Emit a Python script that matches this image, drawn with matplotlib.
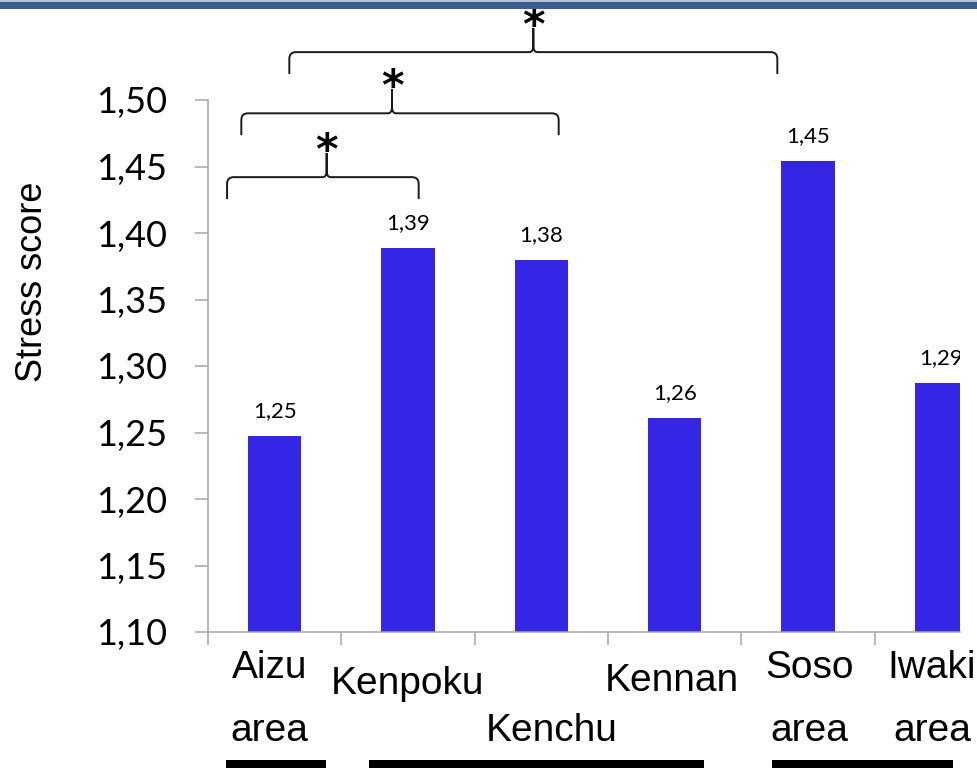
import matplotlib
matplotlib.use('Agg')
import matplotlib.pyplot as plt
from matplotlib.patches import Rectangle, PathPatch
from matplotlib.path import Path
from matplotlib.transforms import blended_transform_factory

# Mean stress score per area
categories = ['Aizu\narea', 'Kenpoku', 'Kenchu', 'Kennan', 'Soso\narea', 'Iwaki\narea']
stress_scores = [1.247, 1.389, 1.380, 1.261, 1.454, 1.287]
y_ticks = [1.10, 1.15, 1.20, 1.25, 1.30, 1.35, 1.40, 1.45, 1.50]
significance_marks = ['*', '*', '*']

W, H, DPI = 978, 768, 100
PT = 72 / DPI  # points per pixel

BAR_COLOR = '#3526e6'
AXIS_GRAY = '#a6a6a6'


def comma(v):
    return f'{v:.2f}'.replace('.', ',')


fig = plt.figure(figsize=(W / DPI, H / DPI), dpi=DPI)
ax = fig.add_axes([208 / W, 136 / H, 752 / W, 532 / H])

x = list(range(len(categories)))
ax.bar(x, stress_scores, width=0.4, color=BAR_COLOR, zorder=2)
ax.set_xlim(-0.5, 5.14)
ax.set_ylim(1.10, 1.50)

for s in ('top', 'right'):
    ax.spines[s].set_visible(False)
for s in ('left', 'bottom'):
    ax.spines[s].set_color(AXIS_GRAY)
    ax.spines[s].set_linewidth(1.1)

ax.set_yticks(y_ticks)
ax.set_yticklabels([comma(t) for t in y_ticks], fontfamily='Lato', fontsize=26)
ax.tick_params(axis='y', direction='out', length=13 * PT, width=1.1,
               color=AXIS_GRAY, pad=20)
ax.set_xticks([i - 0.5 for i in x])
ax.set_xticklabels([])
ax.tick_params(axis='x', direction='out', length=13 * PT, width=1.1,
               color=AXIS_GRAY)

# Category labels under the axis, staggered
label_dx = [-0.04, 0.0, 0.08, -0.02, 0.01, -0.07]
label_drop_px = [18, 34, 81, 31, 18, 18]
for i, (lab, dx, drop) in enumerate(zip(categories, label_dx, label_drop_px)):
    ax.annotate(lab, xy=(i + dx, 0), xycoords=ax.get_xaxis_transform(),
                xytext=(0, -drop * PT), textcoords='offset points',
                ha='center', va='top', fontsize=28,
                fontfamily='Liberation Sans', linespacing=1.95,
                annotation_clip=False)

# Value labels above bars
for i, v in enumerate(stress_scores):
    ax.annotate(comma(v), xy=(i, v), xytext=(0, 19 * PT),
                textcoords='offset points', ha='center', va='baseline',
                fontsize=16, fontfamily='Lato', clip_on=True)

# Significance braces: (left, right, tip x, bar height)
braces = [(-0.357, 1.08, 0.39, 1.442),
          (-0.25, 2.13, 0.88, 1.490),
          (0.11, 3.77, 1.94, 1.536)]
leg, rise = 0.0165, 0.018
rx, ry = 0.05, 0.005


def draw_brace(x0, x1, xm, h):
    verts = [(x0, h - leg), (x0, h - ry),
             (x0, h), (x0 + rx, h),
             (xm - rx * 0.6, h),
             (xm, h), (xm, h + ry),
             (xm, h + rise),
             (xm, h + ry),
             (xm, h), (xm + rx * 0.6, h),
             (x1 - rx, h),
             (x1, h), (x1, h - ry),
             (x1, h - leg)]
    codes = [Path.MOVETO, Path.LINETO,
             Path.CURVE3, Path.CURVE3,
             Path.LINETO,
             Path.CURVE3, Path.CURVE3,
             Path.LINETO,
             Path.LINETO,
             Path.CURVE3, Path.CURVE3,
             Path.LINETO,
             Path.CURVE3, Path.CURVE3,
             Path.LINETO]
    patch = PathPatch(Path(verts, codes), facecolor='none', edgecolor='#1a1a1a',
                      linewidth=1.4, clip_on=False, zorder=3)
    ax.add_patch(patch)


for (x0, x1, xm, h), mark in zip(braces, significance_marks):
    draw_brace(x0, x1, xm, h)
    ax.annotate(mark, xy=(xm, h + rise), xytext=(0, -11 * PT),
                textcoords='offset points', ha='center', va='baseline',
                fontsize=31, fontweight='bold', fontfamily='DejaVu Sans',
                annotation_clip=False)

# Region group markers along the bottom edge
groups = [(-0.365, 0.385), (0.708, 3.22), (3.73, 5.09)]
gtrans = blended_transform_factory(ax.transData, fig.transFigure)
for g0, g1 in groups:
    fig.add_artist(Rectangle((g0, 0), g1 - g0, 8 / H, transform=gtrans,
                             facecolor='black', edgecolor='none',
                             clip_on=False))

fig.text(33 / W, 1 - 282 / H, 'Stress score', rotation=90, ha='center',
         va='center', fontsize=26, fontfamily='Liberation Sans')

# Header rule
fig.add_artist(Rectangle((0, 1 - 8.5 / H), 1, 7 / H, transform=fig.transFigure,
                         facecolor='#3c5e8c', edgecolor='none'))
fig.add_artist(Rectangle((0, 1 - 1.5 / H), 1, 1.5 / H, transform=fig.transFigure,
                         facecolor='#b4c2d6', edgecolor='none'))

fig.savefig('out.png', dpi=DPI)
